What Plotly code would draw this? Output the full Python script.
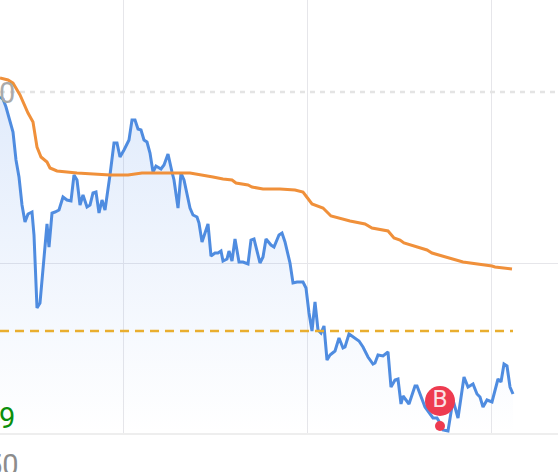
import plotly.graph_objects as go

# session index (horizontal) and price in chart units (vertical)
price_t = [0,3,6,9,13,16,19,22,25,28,32,34,37,40,44,47,49,52,55,59,63,67,71,74,77,80,83,87,90,93,96,99,102,105,110,114,117,120,124,129,132,135,138,141,144,147,150,153,156,161,164,168,172,174,178,181,184,190,193,197,199,202,208,211,215,218,221,223,227,229,232,235,239,243,248,251,254,260,263,266,271,274,279,
           282,285,290,293,297,303,306,309,312,315,318,321,324,327,330,335,339,343,345,349,353,359,363,368,373,375,378,383,388,391,395,398,401,403,409,415,417,425,433,437,440,443,448,452,453,458,464,468,473,477,480,483,487,492,498,501,504,507,510,513]
price = [336,334,326,316,301,273,256,228,211,219,221,198,125,130,176,209,186,220,221,223,236,233,232,258,253,228,238,226,228,240,241,220,233,223,258,290,290,276,283,293,313,313,304,303,293,291,280,261,267,264,268,279,261,253,225,260,253,225,218,216,210,191,209,177,180,180,182,172,174,182,172,194,171,171,169,193,194,170,176,194,188,186,198,
         200,191,170,150,151,151,145,120,102,131,103,100,107,73,78,82,95,85,86,99,96,92,86,76,69,70,78,77,81,46,53,54,29,37,29,47,47,26,15,15,10,3,2,26,33,15,56,46,49,39,36,26,33,31,54,51,69,67,46,39]

avg_t = [0,8,13,20,28,33,37,41,47,50,57,77,110,128,142,190,213,223,232,236,248,252,263,280,295,303,306,309,312,323,331,350,365,372,388,394,400,404,427,432,450,455,463,492,495,512]
avg = [355,353,350,338,320,311,286,276,271,265,262,260,258,258,260,260,256,254,253,250,248,246,244,244,243,241,237,233,229,225,217,212,209,205,202,195,193,190,183,180,175,173,171,167,166,164]

level_t = [0, 513]
cost_level = [102, 102]
ref_t = [0, 558]
ref_level = [341, 341]

grid_t = [123, 307, 491]
grid_y = [170]

buy_t = [440]
buy_badge = [32]
buy_dot = [7]

fig = go.Figure()
fig.add_trace(go.Scatter(
    x=price_t, y=price, mode="lines", fill="tozeroy",
    line=dict(color="#4f8ce0", width=3),
    fillgradient=dict(type="vertical", colorscale=[[0, "rgba(80,140,235,0.0)"], [1, "rgba(80,140,235,0.17)"]]),
    hoverinfo="skip"))
fig.add_trace(go.Scatter(x=ref_t, y=ref_level, mode="lines",
                         line=dict(color="#e4e4e4", width=2.5, dash="5px,5px"), hoverinfo="skip"))
fig.add_trace(go.Scatter(x=level_t, y=cost_level, mode="lines",
                         line=dict(color="#e9ae2f", width=2.4, dash="9px,6px"), hoverinfo="skip"))
fig.add_trace(go.Scatter(x=avg_t, y=avg, mode="lines",
                         line=dict(color="#f0903a", width=3), hoverinfo="skip"))
fig.add_trace(go.Scatter(x=buy_t, y=buy_badge, mode="markers+text", text=["B"],
                         textposition="middle center",
                         textfont=dict(family="Roboto", size=24, color="#fbe3e6"),
                         marker=dict(color="#ee3b50", size=30), hoverinfo="skip"))
fig.add_trace(go.Scatter(x=buy_t, y=buy_dot, mode="markers",
                         marker=dict(color="#ee3b50", size=10), hoverinfo="skip"))

fig.update_layout(
    width=558, height=472, margin=dict(l=0, r=0, t=0, b=0),
    paper_bgcolor="#ffffff", plot_bgcolor="#ffffff", showlegend=False,
    xaxis=dict(range=[0, 558], tickvals=grid_t, showticklabels=False, ticks="",
               showgrid=True, gridcolor="#e6e6ea", gridwidth=1, zeroline=False,
               showline=True, linecolor="#eeeeee", linewidth=2),
    yaxis=dict(range=[0, 433], domain=[39 / 472, 1], tickvals=grid_y, showticklabels=False, ticks="",
               showgrid=True, gridcolor="#e6e6ea", gridwidth=1, zeroline=False, showline=False),
    annotations=[
        dict(x=17 / 558, y=(39 + 340) / 472, xref="paper", yref="paper", text="0", showarrow=False,
             xanchor="right", yanchor="middle", font=dict(family="Roboto", size=29, color="#aaaaaa")),
        dict(x=17 / 558, y=(39 + 15) / 472, xref="paper", yref="paper", text="9", showarrow=False,
             xanchor="right", yanchor="middle", font=dict(family="Roboto", size=29, color="#0b8f0b")),
        dict(x=21 / 558, y=(39 - 32) / 472, xref="paper", yref="paper", text="50", showarrow=False,
             xanchor="right", yanchor="middle", font=dict(family="Roboto", size=29, color="#8c8c8c")),
    ],
)

fig.write_html("out.html", post_script="document.body.style.margin='0';",
               config=dict(displayModeBar=False))
